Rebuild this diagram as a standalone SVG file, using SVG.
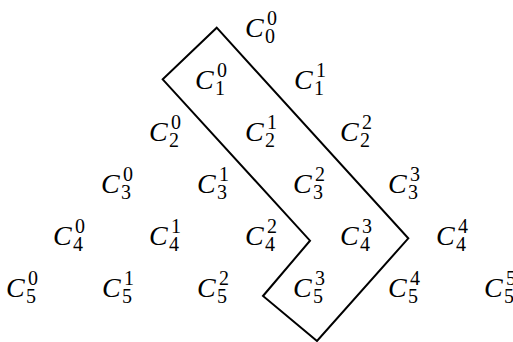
<svg xmlns="http://www.w3.org/2000/svg" width="513" height="342" viewBox="0 0 513 342">
<style>
.c{font-family:"Liberation Serif","Times New Roman",serif;font-style:italic;font-size:28px;fill:#000}
.s{font-family:"Liberation Serif","Times New Roman",serif;font-size:20px;fill:#000}
.ln{fill:none;stroke:#000;stroke-width:2;stroke-linejoin:miter}
</style>
<rect width="513" height="342" fill="#fff"/>
<g id="outline">
<path class="ln" d="M216.7,27.7 L408.3,238.3 L317,341 L263,296 L310,240.7 L162.7,79.3 Z"/>
</g>
<g id="n0-0"><text class="c" x="245" y="37">C</text><text class="s" x="267" y="25">0</text><text class="s" x="265" y="43">0</text></g>
<g id="n1-0"><text class="c" x="195" y="89">C</text><text class="s" x="217" y="77">0</text><text class="s" x="215" y="95">1</text></g>
<g id="n1-1"><text class="c" x="294" y="89">C</text><text class="s" x="316" y="77">1</text><text class="s" x="314" y="95">1</text></g>
<g id="n2-0"><text class="c" x="149" y="141">C</text><text class="s" x="171" y="129">0</text><text class="s" x="169" y="147">2</text></g>
<g id="n2-1"><text class="c" x="245" y="141">C</text><text class="s" x="267" y="129">1</text><text class="s" x="265" y="147">2</text></g>
<g id="n2-2"><text class="c" x="340" y="141">C</text><text class="s" x="362" y="129">2</text><text class="s" x="360" y="147">2</text></g>
<g id="n3-0"><text class="c" x="101" y="193">C</text><text class="s" x="123" y="181">0</text><text class="s" x="121" y="199">3</text></g>
<g id="n3-1"><text class="c" x="197" y="193">C</text><text class="s" x="219" y="181">1</text><text class="s" x="217" y="199">3</text></g>
<g id="n3-2"><text class="c" x="293" y="193">C</text><text class="s" x="315" y="181">2</text><text class="s" x="313" y="199">3</text></g>
<g id="n3-3"><text class="c" x="388" y="193">C</text><text class="s" x="410" y="181">3</text><text class="s" x="408" y="199">3</text></g>
<g id="n4-0"><text class="c" x="53" y="245">C</text><text class="s" x="75" y="233">0</text><text class="s" x="73" y="251">4</text></g>
<g id="n4-1"><text class="c" x="149" y="245">C</text><text class="s" x="171" y="233">1</text><text class="s" x="169" y="251">4</text></g>
<g id="n4-2"><text class="c" x="245" y="245">C</text><text class="s" x="267" y="233">2</text><text class="s" x="265" y="251">4</text></g>
<g id="n4-3"><text class="c" x="340" y="245">C</text><text class="s" x="362" y="233">3</text><text class="s" x="360" y="251">4</text></g>
<g id="n4-4"><text class="c" x="436" y="245">C</text><text class="s" x="458" y="233">4</text><text class="s" x="456" y="251">4</text></g>
<g id="n5-0"><text class="c" x="6" y="297">C</text><text class="s" x="28" y="285">0</text><text class="s" x="26" y="303">5</text></g>
<g id="n5-1"><text class="c" x="102" y="297">C</text><text class="s" x="124" y="285">1</text><text class="s" x="122" y="303">5</text></g>
<g id="n5-2"><text class="c" x="197" y="297">C</text><text class="s" x="219" y="285">2</text><text class="s" x="217" y="303">5</text></g>
<g id="n5-3"><text class="c" x="293" y="297">C</text><text class="s" x="315" y="285">3</text><text class="s" x="313" y="303">5</text></g>
<g id="n5-4"><text class="c" x="388" y="297">C</text><text class="s" x="410" y="285">4</text><text class="s" x="408" y="303">5</text></g>
<g id="n5-5"><text class="c" x="484" y="297">C</text><text class="s" x="506" y="285">5</text><text class="s" x="504" y="303">5</text></g>
</svg>
